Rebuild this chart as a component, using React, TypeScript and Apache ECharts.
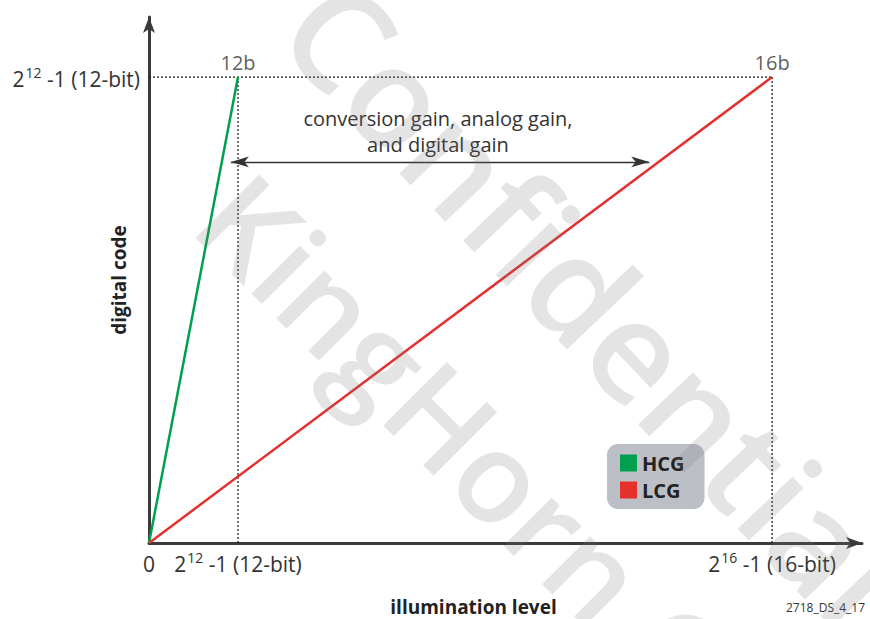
import React, { useEffect, useRef } from "react";
import * as echarts from "echarts";

// Illumination in drawn units: 12-bit saturation = 1, 16-bit saturation = 7
const hcgData: number[][] = [[0, 0], [1, 1]];
const lcgData: number[][] = [[0, 0], [7, 1]];
const guideTop: number[][] = [[0, 1], [7, 1]];
const guide12: number[][] = [[1, 0], [1, 1]];
const guide16: number[][] = [[7, 0], [7, 1]];
const endLabels: (number | string)[][] = [[1, 1, "12b"], [7, 1, "16b"]];
const xTickValues = [0, 1, 7];
const xTickExp = ["", "12", "16"];
const xTickSuffix = ["", " -1 (12-bit)", " -1 (16-bit)"];
const yTickValues = [1];
const yTickExp = ["12"];
const yTickSuffix = [" -1 (12-bit)"];
const gainArrow = { y: 0.818, from: 0.92, to: 5.62 };
const xMax = 8.01;
const yMax = 1.129;

const FONT = "Open Sans";

export default function App() {
  const ref = useRef<HTMLDivElement>(null);
  useEffect(() => {
    const chart = echarts.init(ref.current!, undefined, { renderer: "svg" });
    const rich = {
      b: { fontSize: 21, color: "#333", fontFamily: FONT, lineHeight: 24, verticalAlign: "bottom" },
      s: { fontSize: 14, color: "#333", fontFamily: FONT, lineHeight: 24, verticalAlign: "top", padding: [0, 0, 0, 1] },
    };
    const guide = (name: string, data: number[][]) => ({
      name,
      type: "line",
      data,
      symbol: "none",
      silent: true,
      z: 1,
      lineStyle: { color: "#111", width: 1.2, type: [2, 2] },
    });
    chart.setOption({
      animation: false,
      textStyle: { fontFamily: FONT },
      grid: { left: 149, right: 8, top: 17, bottom: 76, outerBoundsMode: "none", containLabel: false },
      legend: {
        data: ["HCG", "LCG"],
        orient: "vertical",
        left: 607,
        top: 444,
        icon: "rect",
        itemWidth: 17,
        itemHeight: 17,
        itemGap: 7,
        itemStyle: { borderWidth: 0 },
        backgroundColor: "#BCC0C6",
        borderRadius: 11,
        padding: [9, 20, 9, 13],
        textStyle: { fontSize: 20, fontWeight: "bold", color: "#222", fontFamily: FONT, lineHeight: 17 },
        selectedMode: false,
      },
      xAxis: {
        type: "value",
        min: 0,
        max: xMax,
        name: "illumination level",
        nameLocation: "middle",
        nameGap: 54,
        nameMoveOverlap: false,
        nameTextStyle: { fontSize: 19, fontWeight: "bold", color: "#222", padding: [0, 64, 0, 0] },
        axisLine: { show: true, lineStyle: { color: "#3a3a3a", width: 3 }, symbol: ["none", "arrow"], symbolSize: [9, 16] },
        axisTick: { show: false },
        splitLine: { show: false },
        axisLabel: {
          customValues: xTickValues,
          showMinLabel: true,
          showMaxLabel: true,
          margin: 7,
          formatter: (v: number) => {
            const i = xTickValues.indexOf(v);
            if (i <= 0) return "{b|0}";
            return `{b|2}{s|${xTickExp[i]}}{b|${xTickSuffix[i]}}`;
          },
          rich,
        },
      },
      yAxis: {
        type: "value",
        min: 0,
        max: yMax,
        name: "digital code",
        nameLocation: "middle",
        nameGap: 21,
        nameMoveOverlap: false,
        nameTextStyle: { fontSize: 19, fontWeight: "bold", color: "#222" },
        axisLine: { show: true, lineStyle: { color: "#3a3a3a", width: 3 }, symbol: ["none", "arrow"], symbolSize: [9, 16] },
        axisTick: { show: false },
        splitLine: { show: false },
        axisLabel: {
          customValues: yTickValues,
          margin: 9,
          formatter: (v: number) => {
            const i = yTickValues.indexOf(v);
            return `{b|2}{s|${yTickExp[i]}}{b|${yTickSuffix[i]}}`;
          },
          rich,
        },
      },
      series: [
        guide("guideTop", guideTop),
        guide("guide12", guide12),
        guide("guide16", guide16),
        {
          name: "HCG",
          type: "line",
          data: hcgData,
          symbol: "none",
          z: 3,
          color: "#00A04E",
          lineStyle: { color: "#00A04E", width: 2.5 },
        },
        {
          name: "LCG",
          type: "line",
          data: lcgData,
          symbol: "none",
          z: 3,
          color: "#E5302D",
          lineStyle: { color: "#E5302D", width: 2.5 },
        },
        {
          name: "ends",
          type: "scatter",
          data: endLabels,
          symbolSize: 0,
          silent: true,
          label: {
            show: true,
            position: "top",
            distance: 5,
            fontSize: 20,
            color: "#333",
            fontFamily: FONT,
            formatter: (p: any) => p.value[2],
          },
        },
        {
          name: "gain",
          type: "line",
          data: [],
          markLine: {
            silent: true,
            symbol: ["arrow", "arrow"],
            symbolSize: [8, 18],
            label: { show: false },
            lineStyle: { color: "#333", width: 1.3, type: "solid" },
            data: [[{ coord: [gainArrow.from, gainArrow.y] }, { coord: [gainArrow.to, gainArrow.y] }]],
          },
        },
      ],
      graphic: [
        {
          type: "text",
          x: 438,
          y: 131,
          silent: true,
          style: {
            text: "conversion gain, analog gain,\nand digital gain",
            fontSize: 20,
            lineHeight: 26,
            fontFamily: FONT,
            fill: "#333",
            align: "center",
            verticalAlign: "middle",
          },
        },
        {
          type: "text",
          x: 786,
          y: 607,
          silent: true,
          style: { text: "2718_DS_4_17", fontSize: 12, fontFamily: FONT, fill: "#333", verticalAlign: "middle" },
        },
        {
          type: "text",
          x: 595,
          y: 300,
          rotation: -0.81,
          silent: true,
          z: 100,
          style: {
            text: "Confidential",
            fontSize: 140,
            fontWeight: 600,
            fontFamily: FONT,
            fill: "rgba(120,120,120,0.2)",
            align: "center",
            verticalAlign: "middle",
          },
        },
        {
          type: "text",
          x: 222,
          y: 195,
          rotation: -Math.PI / 4,
          silent: true,
          z: 100,
          style: {
            text: "KingHorn Co",
            fontSize: 126,
            fontWeight: 600,
            fontFamily: FONT,
            fill: "rgba(120,120,120,0.2)",
            align: "left",
            verticalAlign: "middle",
          },
        },
      ],
    });
    return () => chart.dispose();
  }, []);
  return <div ref={ref} style={{ width: 870, height: 619, position: "absolute", left: 0, top: 0 }} />;
}
